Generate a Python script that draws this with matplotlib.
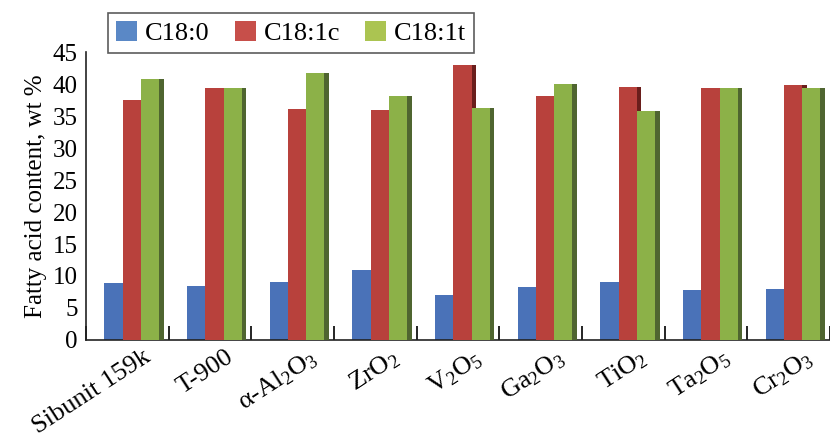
import matplotlib
matplotlib.use("Agg")
import matplotlib.pyplot as plt
import matplotlib.transforms as mtransforms
from matplotlib.patches import Patch
import numpy as np

plt.rcParams['font.family'] = ['Liberation Serif', 'DejaVu Serif']
plt.rcParams['mathtext.default'] = 'regular'

categories = ['Sibunit 159k', 'T-900', 'α-Al$_2$O$_3$', 'ZrO$_2$', 'V$_2$O$_5$',
              'Ga$_2$O$_3$', 'TiO$_2$', 'Ta$_2$O$_5$', 'Cr$_2$O$_3$']
series_names = ['C18:0', 'C18:1c', 'C18:1t']
c18_0 = [8.9, 8.5, 9.0, 10.9, 7.1, 8.3, 9.1, 7.8, 8.0]
c18_1c = [37.5, 39.3, 36.1, 36.0, 42.9, 38.1, 39.6, 39.3, 39.9]
c18_1t = [40.8, 39.3, 41.7, 38.2, 36.3, 40.0, 35.8, 39.3, 39.3]

bar_colors = ['#4A72B8', '#B8413C', '#8CB148']
shade_colors = ['#2C4A80', '#6A1E1C', '#4F6530']
legend_colors = ['#5A88C6', '#C74F4A', '#ABC451']

fig = plt.figure(figsize=(8.30, 4.33), dpi=100)
ax = fig.add_axes([86/830, 1-340/433, 1-86/830, (340-52)/433])

x = np.arange(len(categories))
w = 0.22
offsets = [-0.167, 0.054, 0.274]
sw = 0.065
for k, vals in enumerate([c18_0, c18_1c, c18_1t]):
    z = 2 + k
    ax.bar(x + offsets[k] + w/2 + sw/2 - 0.01, vals, width=sw, color=shade_colors[k],
           zorder=z, linewidth=0)
    ax.bar(x + offsets[k], vals, width=w, color=bar_colors[k], zorder=z + 0.5, linewidth=0)

ax.set_xlim(-0.5, -0.5 + 744/83.6)
ax.set_ylim(0, 45)
ax.set_yticks(np.arange(0, 46, 5))
ax.tick_params(axis='y', length=0, labelsize=18, pad=6)
ax.set_ylabel('Fatty acid content, wt %', fontsize=18, labelpad=4)

ax.set_xticks([])
ax.set_xticks(np.arange(-0.5, len(categories), 1.0), minor=True)
ax.tick_params(axis='x', which='minor', length=10, direction='in', width=1.2,
               labelbottom=False)

label_tr = ax.get_xaxis_transform() + mtransforms.ScaledTranslation(
    15/100, -6/100, fig.dpi_scale_trans)
for xi, lab in zip(x, categories):
    ax.text(xi, 0, lab, transform=label_tr, rotation=33, ha='right', va='top',
            rotation_mode='anchor', fontsize=19, clip_on=False)

for s in ['top', 'right']:
    ax.spines[s].set_visible(False)
for s in ['left', 'bottom']:
    ax.spines[s].set_linewidth(1.2)
    ax.spines[s].set_color('#222222')

handles = [Patch(facecolor=c, edgecolor='none') for c in legend_colors]
leg = fig.legend(handles, series_names, loc='upper left',
                 bbox_to_anchor=(108/830, 1-13/433), borderaxespad=0,
                 ncol=3, fontsize=19, frameon=True, fancybox=False,
                 handlelength=0.8, handleheight=0.8, handletextpad=0.3,
                 columnspacing=0.95, borderpad=0.3)
leg.get_frame().set_edgecolor('#333333')
leg.get_frame().set_linewidth(1.2)

fig.savefig('out.png', dpi=100)
